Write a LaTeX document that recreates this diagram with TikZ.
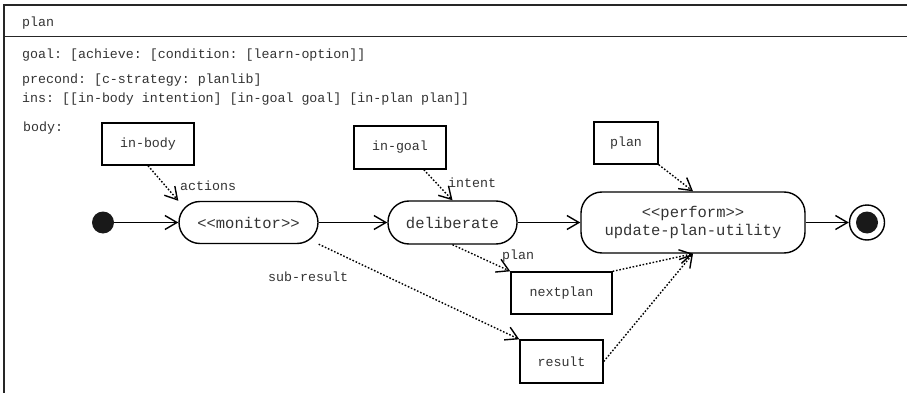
\documentclass[tikz,border=0pt]{standalone}
\usepackage{fontspec}
\setmonofont{Liberation Mono}
\usetikzlibrary{arrows.meta}
\begin{document}
\begin{tikzpicture}[x=1pt,y=-1pt,
		txt/.style={font=\ttfamily\fontsize{13.3}{15}\selectfont, text=black!80, inner sep=0pt},
		box/.style={draw, line width=1.4pt, minimum height=42pt, inner sep=0pt, txt},
		state/.style={draw, line width=1.4pt, rounded corners=21pt, minimum height=43pt, inner sep=0pt, align=center, font=\ttfamily\fontsize{15.5}{18}\selectfont, text=black!80},
		flow/.style={line width=1.4pt, -{Straight Barb[length=12pt,width=14pt]}},
		dep/.style={line width=1.4pt, dash pattern=on 1.6pt off 1.8pt, -{Straight Barb[length=12pt,width=14pt]}}]
		\useasboundingbox (0,0) rectangle (907,393);
		\draw[line width=1.4pt, black!85] (4,393) -- (4,5) -- (907,5);
		\draw[line width=1.4pt, black!85] (4,36.5) -- (907,36.5);
		\node[txt, anchor=west] (title) at (22,23) {plan};
		\node[txt, anchor=west] (goal) at (22,55) {goal: [achieve: [condition: [learn-option]]};
		\node[txt, anchor=west] (precond) at (22,80) {precond: [c-strategy: planlib]};
		\node[txt, anchor=west] (ins) at (22,99) {ins: [[in-body intention] [in-goal goal] [in-plan plan]]};
		\node[txt, anchor=west] (body) at (23,128) {body:};
		\node[box, minimum width=92pt] (inbody) at (148,144) {in-body};
		\node[box, minimum width=92pt, minimum height=43pt] (ingoal) at (400,147.5) {in-goal};
		\node[box, minimum width=64pt] (plan) at (626,143) {plan};
		\node[box, minimum width=101pt] (nextplan) at (561.5,293) {nextplan};
		\node[box, minimum width=83pt, minimum height=43pt] (result) at (561.5,361.5) {result};
		\node[state, minimum width=139pt, minimum height=42pt] (monitor) at (248.5,222.5) {<<monitor>>};
		\node[state, minimum width=129pt] (deliberate) at (452.5,222.5) {deliberate};
		\node[state, minimum width=224pt, minimum height=61pt] (perform) at (693,222.5) {<<perform>>\\update-plan-utility};
		\node[circle, fill=black!90, minimum size=22pt, inner sep=0pt] (init) at (103,222.5) {};
		\node[circle, draw, line width=1.4pt, minimum size=35pt, inner sep=0pt] (final) at (867,222.5) {};
		\fill[black!90] (final) circle (11pt);
		\draw[flow] (init) -- (monitor);
		\draw[flow] (monitor) -- (deliberate);
		\draw[flow] (deliberate) -- (perform);
		\draw[flow] (perform) -- (final);
		\draw[dep] (inbody.south) -- (monitor.north west);
		\draw[dep] (ingoal.-43) -- (deliberate.north);
		\draw[dep] (plan.south east) -- (perform.north);
		\draw[dep] (deliberate.south) -- (nextplan.north west);
		\draw[dep] (monitor.south east) -- (result.north west);
		\draw[dep] (nextplan.north east) -- (perform.south);
		\draw[dep] (result.east) -- (perform.south);
		\node[txt, anchor=west] (lactions) at (180,186) {actions};
		\node[txt, anchor=west] (lintent) at (448,183) {intent};
		\node[txt, anchor=west] (lplan) at (502,256) {plan};
		\node[txt, anchor=west] (lsubresult) at (268,277) {sub-result};
		\end{tikzpicture}
\end{document}
